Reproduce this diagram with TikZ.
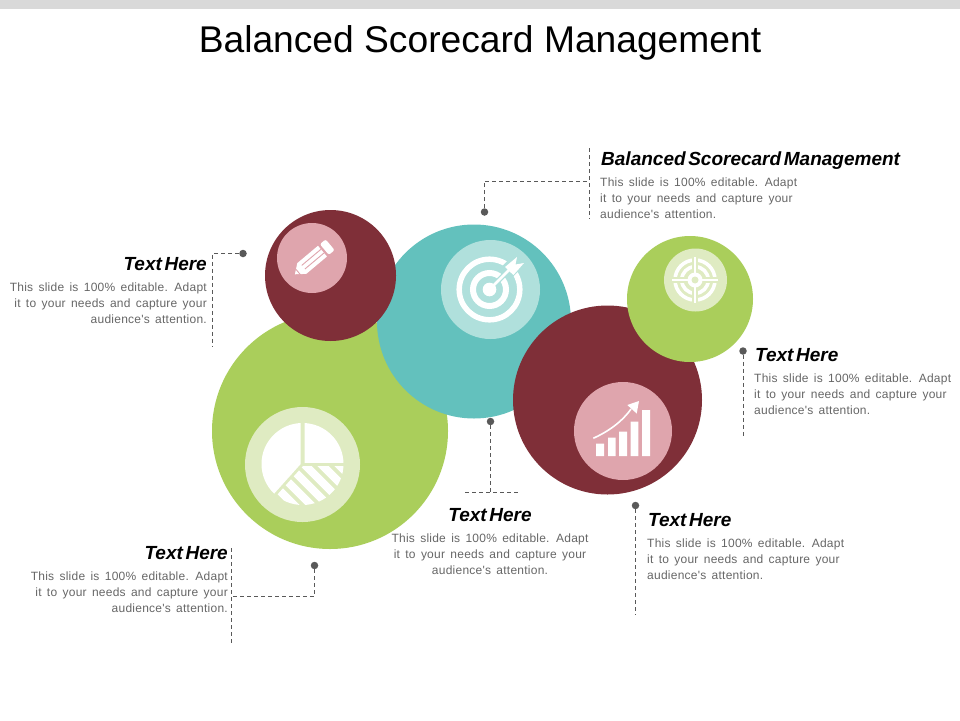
\documentclass[tikz,border=0pt]{standalone}
\usepackage{fontspec}
\setmainfont{Liberation Sans}
\newfontfamily\bodyfont[LetterSpace=2,WordSpace=1.5]{Liberation Sans}
\newfontfamily\headfont[WordSpace=0.5]{Liberation Sans}
\newcommand{\slidetext}{This slide is 100\% editable. Adapt\\it to your needs and capture your\\audience's attention.}
\definecolor{leaf}{HTML}{AACE5B}
\definecolor{leaflight}{HTML}{DFEBC2}
\definecolor{teal}{HTML}{63C1BD}
\definecolor{teallight}{HTML}{B0E0DC}
\definecolor{wine}{HTML}{7F2F38}
\definecolor{winelight}{HTML}{DFA5AD}
\definecolor{dotgrey}{HTML}{595959}
\definecolor{blurbgrey}{HTML}{666666}
\tikzset{
    disc/.style={circle, inner sep=0pt, minimum size=#1},
    dot/.style={circle, inner sep=0pt, minimum size=7.5pt, fill=dotgrey},
    lead/.style={dashed, dash pattern=on 4pt off 3pt, line width=0.9pt, dotgrey},
    heading/.style={inner sep=0pt, font=\headfont\fontsize{19}{21}\selectfont\bfseries\itshape},
    blurb/.style={inner sep=0pt, text=blurbgrey, font=\bodyfont\fontsize{12}{16}\selectfont}
}

\begin{document}
\begin{tikzpicture}[x=1pt, y=-1pt]
    \useasboundingbox (0, 0) rectangle (960, 720);
    \fill[black!15] (0, 0) rectangle (960, 9);
    \node[font=\fontsize{37.2}{40}\selectfont, inner sep=0pt] (title) at (480, 43) {Balanced Scorecard Management};

    % big circles
    \node[disc=236pt, fill=leaf] (piecircle) at (330, 431) {};
    \node[disc=194pt, fill=teal] (targetcircle) at (474, 321.5) {};
    \node[disc=131pt, fill=wine] (pencilcircle) at (330.5, 275.5) {};
    \node[disc=189pt, fill=wine] (chartcircle) at (607.5, 400) {};
    \node[disc=126pt, fill=leaf] (crosscircle) at (690, 299) {};

    % icon backgrounds
    \node[disc=115pt, fill=leaflight] (piedisc) at (302.5, 464.5) {};
    \node[disc=99pt, fill=teallight] (targetdisc) at (490.5, 289.5) {};
    \node[disc=70pt, fill=winelight] (pencildisc) at (312, 258) {};
    \node[disc=98pt, fill=winelight] (chartdisc) at (623, 431) {};
    \node[disc=63pt, fill=leaflight] (crossdisc) at (695.5, 280) {};

    % pencil
    \begin{scope}[shift={(312.5, 259.5)}, rotate=40]
        \fill[white] (-23, 0) -- (-14, -7) -- (13, -7) -- (13, 7) -- (-14, 7) -- cycle;
        \fill[white, rounded corners=2pt] (15.5, -7) rectangle (23, 7);
        \draw[winelight, line width=0.9pt]
            (-12, -2.4) -- (13, -2.4)
            (-12, 2.4) -- (13, 2.4)
            (-19, -4) -- (-19, 4)
        ;
    \end{scope}

    % target
    \draw[white, line width=5.5pt] (489.5, 289.5) circle (30.3);
    \draw[white, line width=6pt] (489.5, 289.5) circle (16.5);
    \draw[teallight, line width=5pt] (489.5, 289.5) -- (506, 273);
    \draw[teallight, line width=15pt] (505, 274) -- (516, 263);
    \fill[white] (489.5, 289.5) circle (6.8);
    \draw[white, line width=2.6pt] (489.5, 289.5) -- (510, 269);
    \fill[white] (505, 267) -- (517, 257) -- (515.5, 264.5) -- (524, 263) -- (513.5, 275) -- (509, 271) -- cycle;

    % pie
    \begin{scope}
        \clip (300.7, 420) -- (300.7, 464) -- (255, 515) -- (255, 420) -- cycle;
        \fill[white] (302.5, 464) circle (41);
    \end{scope}
    \begin{scope}
        \clip (304.5, 420) rectangle (350, 462.5);
        \fill[white] (302.5, 464) circle (41);
    \end{scope}
    \begin{scope}
        \clip (302.5, 464) circle (41);
        \clip (303, 466) -- (350, 466) -- (350, 515) -- (259, 515) -- cycle;
        \draw[white, line width=8pt]
            (322, 448) -- (392, 518)
            (305, 448) -- (375, 518)
            (288, 448) -- (358, 518)
            (271, 448) -- (341, 518)
            (254, 448) -- (324, 518)
            (237, 448) -- (307, 518)
        ;
    \end{scope}

    % bars
    \fill[white]
        (596, 443.5) rectangle (604, 456)
        (608, 437.7) rectangle (615.5, 456)
        (619, 431.7) rectangle (627, 456)
        (630.7, 421.7) rectangle (638.3, 456)
        (642, 410) rectangle (650, 456)
    ;
    \draw[white, line width=1.6pt] (593.3, 438.3) .. controls (607, 432) and (621, 423) .. (631, 409);
    \fill[white] (639, 401) -- (636.7, 413.5) -- (627.3, 405) -- cycle;

    % crosshair
    \draw[white, line width=3.6pt] (695, 280) circle (20) (695, 280) circle (13.3);
    \draw[leaflight, line width=6pt] (672, 280) -- (718, 280) (695, 257) -- (695, 303);
    \draw[white, line width=2.4pt] (672, 280) -- (718, 280) (695, 257) -- (695, 303);
    \fill[white] (695, 280) circle (7.5);
    \fill[leaflight] (695, 280) circle (3.5);

    % dots and bends of the leaders
    \node[dot] (topdot) at (484.5, 212) {};
    \node[dot] (leftdot) at (243, 253.5) {};
    \node[dot] (rightdot) at (743, 351) {};
    \node[dot] (middot) at (490.5, 421.5) {};
    \node[dot] (lowdot) at (635.5, 505.5) {};
    \node[dot] (bottomdot) at (314.5, 565.5) {};

    \coordinate (topbar1) at (589, 148);
    \coordinate (topbar2) at (589, 219);
    \coordinate (topjoin) at (589, 181);
    \coordinate (leftend) at (212.5, 346);
    \coordinate (rightend) at (743, 438);
    \coordinate (midjoin) at (490.5, 492);
    \coordinate (midbar1) at (465, 492);
    \coordinate (midbar2) at (518, 492);
    \coordinate (lowend) at (635.5, 615);
    \coordinate (bottombar1) at (231.5, 548);
    \coordinate (bottombar2) at (231.5, 644);
    \coordinate (bottomjoin) at (231.5, 596.5);

    \draw[lead] (topbar1) -- (topbar2);
    \draw[lead] (topdot) |- (topjoin);
    \draw[lead] (leftdot) -| (leftend);
    \draw[lead] (rightdot) -- (rightend);
    \draw[lead] (middot) -- (midjoin);
    \draw[lead] (midbar1) -- (midbar2);
    \draw[lead] (lowdot) -- (lowend);
    \draw[lead] (bottombar1) -- (bottombar2);
    \draw[lead] (bottomdot) |- (bottomjoin);

    % texts
    \node[heading, anchor=west] (tophead) at (601, 161) {Balanced Scorecard Management};
    \node[blurb, anchor=north west, align=left] (toptext) at (600, 178) {\slidetext};

    \node[heading, anchor=east] (lefthead) at (207, 264) {Text Here};
    \node[blurb, anchor=north east, align=right] (lefttext) at (207, 283) {\slidetext};

    \node[heading, anchor=west] (righthead) at (755, 355) {Text Here};
    \node[blurb, anchor=north west, align=left] (righttext) at (754, 374) {\slidetext};

    \node[heading] (midhead) at (490, 515) {Text Here};
    \node[blurb, anchor=north, align=center] (midtext) at (490, 534) {\slidetext};

    \node[heading, anchor=west] (lowhead) at (648, 520) {Text Here};
    \node[blurb, anchor=north west, align=left] (lowtext) at (647, 539) {\slidetext};

    \node[heading, anchor=east] (bottomhead) at (228, 553) {Text Here};
    \node[blurb, anchor=north east, align=right] (bottomtext) at (228, 572) {\slidetext};
\end{tikzpicture}
\end{document}
